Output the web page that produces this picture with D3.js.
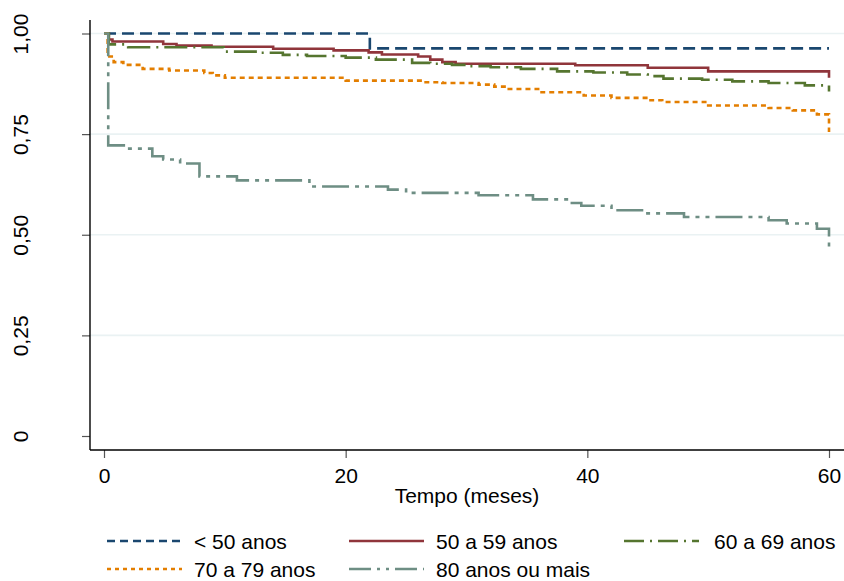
<!DOCTYPE html>
<html lang="pt">
<head>
<meta charset="UTF-8">
<title>Sobrevida por faixa etária</title>
<script src="https://cdn.jsdelivr.net/npm/d3@7"></script>
<style>
  body { margin: 0; background: #fff; }
  svg text { font-family: "Liberation Sans", Arial, sans-serif; fill: #000; }
</style>
</head>
<body>
<div id="chart"></div>
<script>
// tempos (meses) e sobrevida estimada
const groups = ["< 50 anos", "50 a 59 anos", "60 a 69 anos", "70 a 79 anos", "80 anos ou mais"];
const tA = [0, 22, 60];
const sA = [1, 0.963, 0.963];
const tB = [0, 0.4, 0.7, 4.9, 6, 8.9, 14, 19, 21.9, 23, 26, 27, 28, 29.1, 39, 45, 50, 60];
const sB = [1, 0.985, 0.980, 0.974, 0.970, 0.967, 0.962, 0.958, 0.953, 0.948, 0.943, 0.935, 0.929, 0.925, 0.921, 0.915, 0.906, 0.890];
const tC = [0, 0.4, 2, 9.9, 13, 14.8, 16.8, 20, 22.5, 25.5, 27, 28.8, 30, 32, 34.5, 37.5, 40.5, 43.3, 45, 46.3, 49.5, 52, 55, 58, 60];
const sC = [1, 0.973, 0.966, 0.955, 0.952, 0.947, 0.944, 0.940, 0.935, 0.927, 0.925, 0.922, 0.919, 0.916, 0.912, 0.906, 0.903, 0.898, 0.894, 0.888, 0.885, 0.881, 0.877, 0.871, 0.856];
const tD = [0, 0.3, 0.8, 1.6, 3.2, 5.4, 8.3, 9, 10, 20, 26.5, 28, 31, 32.3, 33.3, 36.1, 39.7, 42, 45, 46.2, 50, 55, 57, 59, 60];
const sD = [1, 0.943, 0.929, 0.922, 0.912, 0.908, 0.902, 0.896, 0.890, 0.883, 0.879, 0.877, 0.873, 0.868, 0.862, 0.854, 0.846, 0.840, 0.834, 0.830, 0.821, 0.815, 0.809, 0.799, 0.755];
const tE = [0, 0.35, 1.9, 4, 4.9, 6.3, 7.9, 11, 17, 23.5, 25, 31, 35.5, 38.5, 39.5, 42, 44.7, 48, 55, 56.5, 59, 60];
const sE = [1, 0.722, 0.714, 0.695, 0.687, 0.677, 0.645, 0.635, 0.620, 0.612, 0.604, 0.598, 0.588, 0.579, 0.572, 0.561, 0.553, 0.544, 0.536, 0.528, 0.515, 0.462];

const xTicks = [0, 20, 40, 60];
const yTicks = [0, 0.25, 0.5, 0.75, 1];
const yTickLabels = ["0", "0,25", "0,50", "0,75", "1,00"];

const colors = ["#1a476f", "#90353b", "#55752f", "#e37e00", "#6e8e84"];
const dashes = ["12,6", null, "23,6,2,6", "5,4", "27,6,4,6,4,6"];
const keyDashes = ["8,5", null, "20,6,2,6", "4,4", "22,6,3,6,3,6"];

const series = [[tA, sA], [tB, sB], [tC, sC], [tD, sD], [tE, sE]].map(([t, s], i) => ({
  name: groups[i],
  pts: t.map((d, j) => [d, s[j]])
}));

const w = 844, h = 581;
const axisX = 90, axisY = 450;

const x = d3.scaleLinear().domain([0, 60]).range([104, 829]);
const y = d3.scaleLinear().domain([0, 1]).range([436, 33.5]);

const svg = d3.select("#chart").append("svg")
  .attr("width", w)
  .attr("height", h);

// grade
svg.selectAll("line.grid")
  .data(yTicks.filter(d => d > 0))
  .enter()
  .append("line")
  .attr("class", "grid")
  .attr("x1", axisX)
  .attr("x2", w)
  .attr("y1", d => y(d))
  .attr("y2", d => y(d))
  .style("stroke", "#eaf2f3")
  .style("stroke-width", 1.6);

// curvas
const line = d3.line()
  .x(d => x(d[0]))
  .y(d => y(d[1]))
  .curve(d3.curveStepAfter);

svg.selectAll("path.km")
  .data(series)
  .enter()
  .append("path")
  .attr("class", "km")
  .attr("d", d => line(d.pts))
  .attr("fill", "none")
  .attr("stroke", (d, i) => colors[i])
  .attr("stroke-width", 2.6)
  .attr("stroke-dasharray", (d, i) => dashes[i]);

// eixos
const yAxis = d3.axisLeft(y)
  .tickValues(yTicks)
  .tickSize(8)
  .tickFormat((d, i) => yTickLabels[i]);
const gy = svg.append("g")
  .attr("transform", "translate(" + axisX + ",0)")
  .call(yAxis);
gy.select(".domain").remove();
gy.selectAll("line").style("stroke", "#555").style("stroke-width", 1.2);
gy.selectAll("text")
  .attr("x", null).attr("dy", null)
  .attr("transform", "translate(-62,0) rotate(-90)")
  .attr("text-anchor", "middle")
  .style("font-size", "21px")
  .style("font-family", "Liberation Sans, Arial, sans-serif");

const xAxis = d3.axisBottom(x)
  .tickValues(xTicks)
  .tickSize(8)
  .tickFormat(d3.format("d"));
const gx = svg.append("g")
  .attr("transform", "translate(0," + axisY + ")")
  .call(xAxis);
gx.select(".domain").remove();
gx.selectAll("line").style("stroke", "#555").style("stroke-width", 1.2);
gx.selectAll("text")
  .attr("y", 33).attr("dy", null)
  .style("font-size", "21px")
  .style("font-family", "Liberation Sans, Arial, sans-serif");

svg.append("line")
  .attr("x1", axisX).attr("x2", axisX)
  .attr("y1", 20).attr("y2", axisY)
  .style("stroke", "#000").style("stroke-width", 1.4);
svg.append("line")
  .attr("x1", axisX).attr("x2", w)
  .attr("y1", axisY).attr("y2", axisY)
  .style("stroke", "#000").style("stroke-width", 1.4);

svg.append("text")
  .attr("x", 467)
  .attr("y", 503)
  .attr("text-anchor", "middle")
  .style("font-size", "21px")
  .text("Tempo (meses)");

// legenda
const keyX = [107, 349, 624];
const keyY = [541, 569];
const legend = svg.selectAll("g.leg")
  .data(series)
  .enter()
  .append("g")
  .attr("class", "leg")
  .attr("transform", (d, i) => "translate(" + keyX[i % 3] + "," + keyY[Math.floor(i / 3)] + ")");
legend.append("line")
  .attr("x1", 0).attr("x2", 75)
  .attr("y1", 0).attr("y2", 0)
  .attr("stroke", (d, i) => colors[i])
  .attr("stroke-width", 2.6)
  .attr("stroke-dasharray", (d, i) => keyDashes[i]);
legend.append("text")
  .attr("x", (d, i) => i % 3 === 2 ? 90 : 87)
  .attr("y", 8)
  .style("font-size", "21px")
  .text(d => d.name);
</script>
</body>
</html>
